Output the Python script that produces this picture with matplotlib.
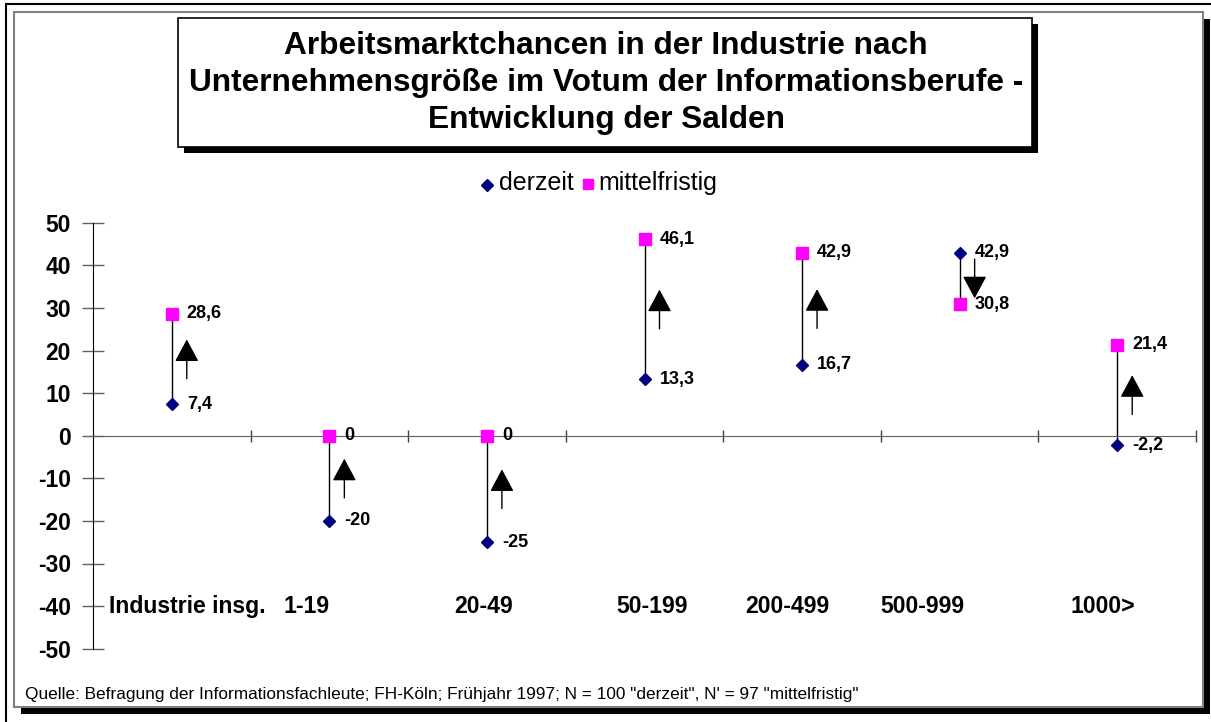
import numpy as np
import matplotlib
matplotlib.use('Agg')
import matplotlib.pyplot as plt
from matplotlib.patches import Rectangle
from matplotlib.lines import Line2D

# data
kategorien = ['Industrie insg.', '1-19', '20-49', '50-199', '200-499', '500-999', '1000>']
derzeit = [7.4, -20, -25, 13.3, 16.7, 42.9, -2.2]
mittelfristig = [28.6, 0, 0, 46.1, 42.9, 30.8, 21.4]
yticks = [50, 40, 30, 20, 10, 0, -10, -20, -30, -40, -50]

W, H = 1211, 722
plt.rcParams['font.family'] = ['Liberation Sans', 'DejaVu Sans']
fig = plt.figure(figsize=(W / 100, H / 100), dpi=100)


def fx(px):
    return px / W


def fy(py):
    return 1 - py / H


def frame(x0, y0, x1, y1, shadow=0, lw=1.5, ec='#808080', z=1):
    if shadow:
        fig.add_artist(Rectangle((fx(x0 + shadow), fy(y1 + shadow)), fx(x1 - x0), (y1 - y0) / H,
                                 transform=fig.transFigure, fc='black', ec='none', zorder=z - 0.5))
    fig.add_artist(Rectangle((fx(x0), fy(y1)), fx(x1 - x0), (y1 - y0) / H,
                             transform=fig.transFigure, fc='white', ec=ec, lw=lw, zorder=z))


# outer lines (top and left)
fig.add_artist(Line2D([fx(6), fx(1211)], [fy(4), fy(4)], transform=fig.transFigure, color='black', lw=1.5))
fig.add_artist(Line2D([fx(6), fx(6)], [fy(4), fy(722)], transform=fig.transFigure, color='black', lw=1.5))
# chart area frame with shadow
frame(14, 12, 1203, 707, shadow=7, lw=1.5, z=1)
# title box
frame(178, 18, 1032, 147, shadow=6, lw=1.2, ec='black', z=2)

fig.text(fx(606), fy(83), 'Arbeitsmarktchancen in der Industrie nach\n'
         'Unternehmensgröße im Votum der Informationsberufe -\nEntwicklung der Salden',
         ha='center', va='center', fontsize=22.8, fontweight='bold', linespacing=1.3, zorder=5)

ax = fig.add_axes([fx(93), fy(648.7), fx(1196 - 93), (648.7 - 222.7) / H], zorder=3)
ax.patch.set_visible(False)
x = np.arange(len(kategorien))
ax.set_xlim(-0.5, len(kategorien) - 0.5)
ax.set_ylim(-50, 50)

for s in ['top', 'right']:
    ax.spines[s].set_visible(False)
ax.spines['bottom'].set_position(('data', 0))
ax.spines['bottom'].set_color('#606060')
ax.spines['left'].set_color('black')

ax.set_yticks(yticks)
ax.set_yticklabels([str(v) for v in yticks], fontsize=16.5, fontweight='bold')
ax.tick_params(axis='y', direction='inout', length=16, width=1, pad=8, color='#606060')
ax.set_xticks(x + 0.5)
ax.set_xticklabels([])
ax.tick_params(axis='x', direction='inout', length=8, width=1, color='#404040')

# vertical connectors
for i in range(len(x)):
    ax.plot([x[i], x[i]], [derzeit[i], mittelfristig[i]], color='black', lw=1, zorder=2)

ax.plot(x, mittelfristig, ls='none', marker='s', ms=8.5, color='#FF00FF', zorder=4, clip_on=False)
ax.plot(x, derzeit, ls='none', marker='D', ms=6.5, color='#000080', zorder=4, clip_on=False)

off = 15 / 157.6
for i in range(len(x)):
    for v in (derzeit[i], mittelfristig[i]):
        ax.text(x[i] + off, v, f'{v:g}'.replace('.', ','), ha='left', va='center',
                fontsize=13, fontweight='bold', zorder=5)
    mid = (derzeit[i] + mittelfristig[i]) / 2
    d = 1 if mittelfristig[i] >= derzeit[i] else -1
    ax.annotate('', xy=(x[i] + off, mid + d * 4.6), xytext=(x[i] + off, mid - d * 4.6),
                arrowprops=dict(arrowstyle='-|>,head_length=1.4,head_width=0.75', mutation_scale=10,
                                color='black', lw=1, shrinkA=0, shrinkB=0), zorder=4)

# category labels
lab_px = [187, 307, 484, 652, 788, 923, 1103]
for lab, px in zip(kategorien, lab_px):
    ax.text((px - 93) / 157.6 - 0.5, -40, lab, ha='center', va='center',
            fontsize=16.6, fontweight='bold', zorder=5)

# legend
fig.add_artist(Line2D([fx(487)], [fy(185)], transform=fig.transFigure, marker='D', ms=6.5,
                      color='#000080', ls='none', zorder=5))
fig.text(fx(499), fy(183), 'derzeit', ha='left', va='center', fontsize=18, zorder=5)
fig.add_artist(Line2D([fx(588)], [fy(184)], transform=fig.transFigure, marker='s', ms=7.5,
                      color='#FF00FF', ls='none', zorder=5))
fig.text(fx(598), fy(183), 'mittelfristig', ha='left', va='center', fontsize=18, zorder=5)

fig.text(fx(25), fy(694), 'Quelle: Befragung der Informationsfachleute; FH-Köln; Frühjahr 1997; '
         'N = 100 "derzeit", N\' = 97 "mittelfristig"', ha='left', va='center', fontsize=12.4, zorder=5)

fig.savefig('out.png', dpi=100)
